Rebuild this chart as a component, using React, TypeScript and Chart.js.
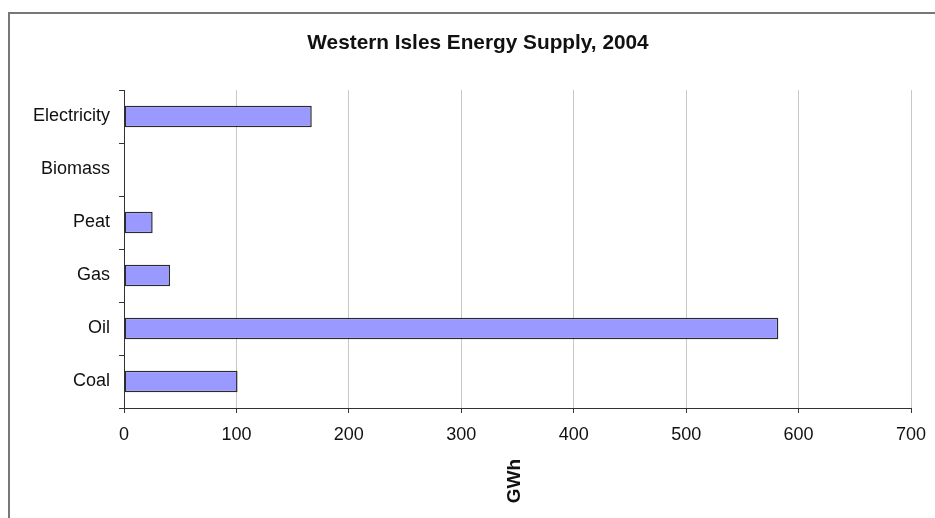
import React, { useEffect, useRef } from 'react';
import { Chart, registerables } from 'chart.js';
Chart.register(...registerables);

const FONT = '"Liberation Sans", Arial, Helvetica, sans-serif';
const TITLE = 'Western Isles Energy Supply, 2004';
const X_TITLE = 'GWh';
const categories = ['Electricity', 'Biomass', 'Peat', 'Gas', 'Oil', 'Coal'];
const values = [167, 0, 25.5, 41, 582, 101];
const xMin = 0;
const xMax = 700;
const xStep = 100;

export default function App() {
  const ref = useRef<HTMLCanvasElement>(null);
  useEffect(() => {
    if (!ref.current) return;
    const textPlugin = {
      id: 'texts',
      afterDraw(chart: any) {
        const ctx = chart.ctx;
        ctx.save();
        ctx.fillStyle = '#111';
        ctx.textAlign = 'center';
        ctx.textBaseline = 'middle';
        ctx.font = `bold 20.8px ${FONT}`;
        ctx.fillText(TITLE, 478, 43);
        const xs = chart.scales.x;
        ctx.translate((xs.left + xs.right) / 2 - 3, 481);
        ctx.rotate(-Math.PI / 2);
        ctx.font = `bold 19px ${FONT}`;
        ctx.fillText(X_TITLE, 0, 0);
        ctx.restore();
      },
    };
    const chart = new Chart(ref.current, {
      type: 'bar',
      data: {
        labels: categories,
        datasets: [
          {
            data: values,
            backgroundColor: '#9999FF',
            borderColor: '#2a2a2a',
            borderWidth: 1.5,
            borderSkipped: false,
            barPercentage: 0.41,
            categoryPercentage: 1,
          },
        ],
      },
      options: {
        indexAxis: 'y',
        responsive: false,
        animation: false,
        layout: { padding: { top: 90, right: 24, left: 0, bottom: 0 } },
        plugins: { legend: { display: false }, tooltip: { enabled: false }, title: { display: false } },
        scales: {
          y: {
            type: 'category',
            position: 'left',
            grid: { drawOnChartArea: false, tickLength: 5, color: '#333', offset: true },
            border: { color: '#333' },
            ticks: { font: { size: 18, family: FONT }, color: '#111', padding: 9 },
            afterFit(s: any) { s.width = 124; s.paddingTop = 0; s.paddingBottom = 0; },
          },
          x: {
            type: 'linear',
            min: xMin,
            max: xMax,
            grid: { color: '#c8c8c8', tickColor: '#333', tickLength: 5 },
            border: { color: '#333' },
            ticks: { stepSize: xStep, font: { size: 18, family: FONT }, color: '#111', padding: 11 },
            afterFit(s: any) { s.height = 110; s.paddingRight = 0; s.paddingLeft = 0; },
          },
        },
      },
      plugins: [textPlugin],
    });
    return () => chart.destroy();
  }, []);
  return (
    <div>
      <canvas ref={ref} width={935} height={518} style={{ position: 'fixed', left: 0, top: 0, width: 935, height: 518 }} />
      <div
        style={{
          position: 'fixed', left: 8, top: 12, width: 1000, height: 1000,
          borderTop: '2px solid #777', borderLeft: '2px solid #777', pointerEvents: 'none',
        }}
      />
    </div>
  );
}
